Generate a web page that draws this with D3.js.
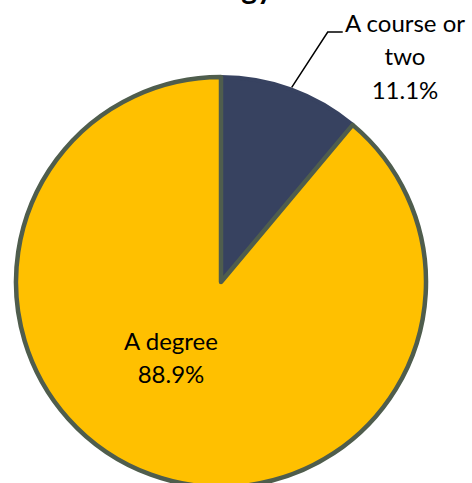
<!DOCTYPE html>
<html>
<head>
<meta charset="utf-8">
<script src="https://cdn.jsdelivr.net/npm/d3@7"></script>
<style>
  html, body { margin: 0; padding: 0; background: #fff; }
  svg { display: block; }
</style>
</head>
<body>
<svg id="chart" width="472" height="483"></svg>
<script>
const categories = ["A course or two", "A degree"];
const values = [11.1, 88.9];
const labelLines = [["A course or", "two", "11.1%"], ["A degree", "88.9%"]];
const sliceColors = ["#374260", "#FFC000"];
const titleText = "gy";

const W = 472, H = 483;
const cx = 221, cy = 282, R = 205;
const svg = d3.select("#chart");

// clipped title (only its descenders are visible at the top edge)
svg.append("text")
  .attr("x", 257).attr("y", -1)
  .attr("text-anchor", "middle")
  .attr("font-family", "Lato, 'Liberation Sans', sans-serif")
  .attr("font-weight", "bold")
  .attr("font-size", 30)
  .attr("fill", "#000")
  .text(titleText);

const pie = d3.pie().sort(null).value(d => d)(values);
const arc = d3.arc().innerRadius(0).outerRadius(R);
const color = d3.scaleOrdinal().domain(categories).range(sliceColors);

const g = svg.append("g").attr("transform", `translate(${cx},${cy})`);

// dark slice first (own-colour edge), then the yellow slice with the green outline
g.append("path")
  .attr("d", arc(pie[0]))
  .attr("fill", color(categories[0]))
  .attr("stroke", color(categories[0]))
  .attr("stroke-width", 4)
  .attr("stroke-linejoin", "round");

g.append("path")
  .attr("d", arc(pie[1]))
  .attr("fill", color(categories[1]))
  .attr("stroke", "#4F5D4D")
  .attr("stroke-width", 4.5)
  .attr("stroke-linejoin", "round");

const font = "Lato, 'Noto Sans', sans-serif";
const fs = 24;
const lineH = 32.5;

// leader line for the small slice
const mid0 = (pie[0].startAngle + pie[0].endAngle) / 2;
const p0 = [Math.sin(mid0) * (R + 2), -Math.cos(mid0) * (R + 2)];
const elbow = [p0[0] + 36, -250];
const endP = [elbow[0] + 15, -250];
g.append("path")
  .attr("d", d3.line()([p0, elbow, endP]))
  .attr("fill", "none")
  .attr("stroke", "#000")
  .attr("stroke-width", 1.5);

// label of small slice
const lab0 = g.append("text")
  .attr("text-anchor", "middle")
  .attr("font-family", font)
  .attr("font-size", fs)
  .attr("fill", "#000");
labelLines[0].forEach((t, i) => {
  lab0.append("tspan").attr("x", 184).attr("y", -250 + i * lineH - (i === 2 ? -1.5 : 0)).text(t);
});

// label of large slice
const lab1 = g.append("text")
  .attr("text-anchor", "middle")
  .attr("font-family", font)
  .attr("font-size", fs)
  .attr("fill", "#000");
labelLines[1].forEach((t, i) => {
  lab1.append("tspan").attr("x", -50).attr("y", 68 + i * lineH).text(t);
});
</script>
</body>
</html>
